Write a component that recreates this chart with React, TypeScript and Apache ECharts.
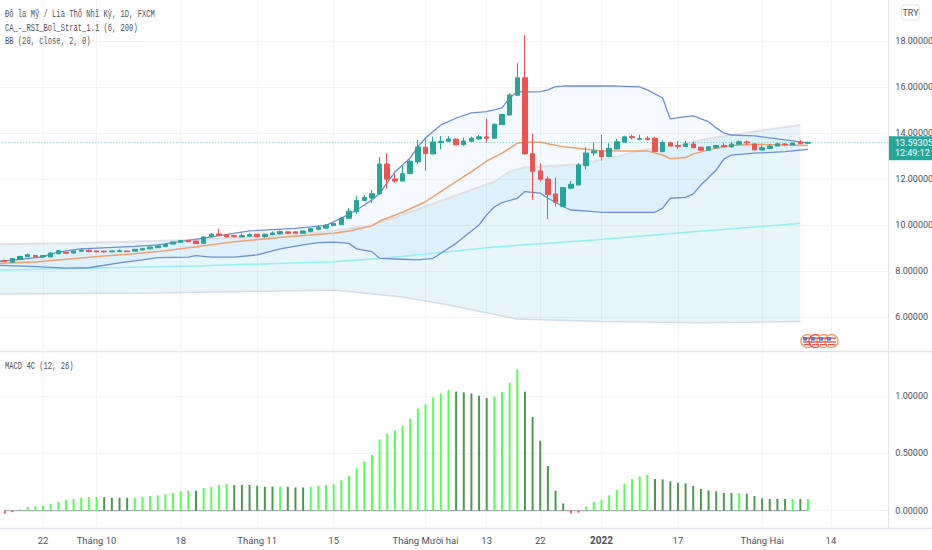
import React, { useEffect, useRef } from "react";
import * as echarts from "echarts";

// index 0 = 22 Sep 2021, one category per weekday
const firstIndex = -6;
const categoryCount = 117;
const tickLabels: Record<number, string> = {
  0: "22", 7: "Tháng 10", 18: "18", 28: "Tháng 11", 38: "15", 50: "Tháng Mười hai",
  58: "13", 65: "22", 73: "2022", 83: "17", 94: "Tháng Hai", 103: "14",
};
const categories = Array.from({ length: categoryCount }, (_, k) => String(k + firstIndex));
const priceTicks = [6, 8, 10, 12, 14, 16, 18];
const macdTicks = [0, 0.5, 1];
const lastPrice = 13.59305;
const countdown = "12:49:12";

// open, close, low, high (bars from index -5)
const candles = [
  [8.46,8.41,8.39,8.49],[8.38,8.54,8.36,8.56],[8.50,8.63,8.48,8.66],[8.62,8.70,8.60,8.76],[8.67,8.62,8.60,8.69],
  [8.61,8.67,8.57,8.70],[8.61,8.78,8.59,8.80],[8.75,8.88,8.74,8.90],[8.81,8.77,8.75,8.83],[8.78,8.87,8.76,8.89],
  [8.86,8.91,8.84,8.96],[8.90,8.84,8.82,8.94],[8.87,8.83,8.81,8.88],[8.86,8.83,8.80,8.88],[8.83,8.87,8.82,8.88],
  [8.84,8.88,8.83,8.94],[8.87,8.84,8.83,8.88],[8.86,8.94,8.85,8.96],[8.91,8.97,8.90,9.00],[8.96,9.04,8.95,9.05],
  [9.01,9.09,9.00,9.10],[9.06,9.16,9.05,9.17],[9.17,9.26,9.16,9.27],[9.25,9.32,9.24,9.33],[9.33,9.27,9.26,9.36],
  [9.30,9.19,9.17,9.32],[9.19,9.48,9.18,9.49],[9.49,9.60,9.48,9.65],[9.61,9.54,9.52,9.83],[9.58,9.49,9.44,9.59],
  [9.54,9.49,9.48,9.55],[9.48,9.54,9.47,9.63],[9.51,9.58,9.50,9.65],[9.60,9.49,9.48,9.61],[9.49,9.60,9.44,9.61],
  [9.58,9.65,9.57,9.72],[9.61,9.71,9.60,9.76],[9.70,9.64,9.63,9.71],[9.70,9.64,9.63,9.72],[9.64,9.74,9.63,9.75],
  [9.71,9.84,9.70,9.85],[9.81,9.90,9.80,10.00],[9.86,9.99,9.85,10.04],[9.97,10.06,9.96,10.07],[10.01,10.30,10.00,10.36],
  [10.29,10.60,10.28,10.74],[10.57,11.07,10.48,11.27],[11.06,11.20,11.04,11.31],[11.17,11.36,10.97,11.52],[11.35,12.65,11.33,12.96],
  [12.65,11.99,11.58,13.12],[12.00,11.91,11.84,12.22],[11.91,12.23,11.90,12.57],[12.23,12.77,12.22,12.83],[12.74,13.39,12.65,13.70],
  [13.38,13.10,12.36,13.81],[13.09,13.61,13.07,13.84],[13.58,13.64,13.29,13.87],[13.64,13.74,13.60,13.86],[13.73,13.49,13.45,13.77],
  [13.49,13.65,13.45,13.80],[13.64,13.77,13.60,13.84],[13.74,13.83,13.70,13.91],[13.83,13.77,13.58,14.62],[13.77,14.38,13.76,14.42],
  [14.36,14.80,14.35,14.83],[14.78,15.65,14.77,15.73],[15.64,16.40,15.63,17.03],[16.40,13.09,13.07,18.26],[13.10,12.33,11.09,13.97],
  [12.35,11.99,11.88,12.68],[12.00,11.33,10.25,12.10],[11.35,10.99,10.80,12.06],[10.81,11.62,10.80,11.65],[11.60,11.77,11.55,11.91],
  [11.74,12.61,11.72,12.68],[12.58,13.13,12.42,13.38],[13.13,13.22,13.01,13.60],[13.22,12.97,12.80,13.91],[12.97,13.33,12.95,13.55],
  [13.30,13.62,13.29,13.74],[13.60,13.83,13.58,13.88],[13.84,13.80,13.71,13.93],[13.71,13.75,13.70,13.93],[13.77,13.71,13.68,13.86],
  [13.77,13.19,13.17,13.83],[13.19,13.58,13.18,13.67],[13.57,13.43,13.42,13.62],[13.46,13.42,13.30,13.65],[13.41,13.53,13.39,13.65],
  [13.52,13.36,13.34,13.62],[13.38,13.25,13.23,13.40],[13.25,13.40,13.23,13.42],[13.35,13.45,13.33,13.49],[13.45,13.40,13.39,13.55],
  [13.39,13.52,13.37,13.62],[13.51,13.62,13.50,13.67],[13.61,13.57,13.48,13.68],[13.51,13.26,13.25,13.55],[13.26,13.36,13.25,13.45],
  [13.32,13.43,13.31,13.52],[13.43,13.53,13.42,13.58],[13.52,13.48,13.47,13.56],[13.48,13.56,13.47,13.57],[13.58,13.53,13.52,13.70],
  [13.55,13.59,13.54,13.62],
];

// [bar index, price]
const bbUpper = [[-6,8.41],[-3,8.50],[0,8.61],[1,8.74],[3,8.87],[5,8.96],[12,9.07],[15,9.13],[21,9.43],[27,9.74],[33,9.85],[37,9.98],[39,10.30],[41,10.65],[43,11.09],[44,11.37],[46,12.30],[47,12.61],[48,12.91],[49,13.40],[50,13.78],[51,14.06],[52,14.35],[53,14.49],[54,14.65],[56,14.87],[58,14.93],[60,15.09],[61,15.52],[62,15.80],[63,15.78],[65,15.80],[66,15.87],[67,16.01],[68,16.04],[71,16.04],[75,16.04],[78,16.00],[79,15.87],[81,15.52],[82,14.61],[84,14.71],[85,14.74],[87,14.49],[88,14.22],[89,14.00],[90,13.91],[93,13.87],[97,13.70],[100,13.57]];
const bbLower = [[-6,8.25],[-1,8.19],[3,8.12],[6,8.14],[10,8.35],[13,8.48],[15,8.58],[19,8.60],[20,8.67],[22,8.60],[25,8.60],[28,8.70],[31,8.96],[34,9.13],[36,9.23],[38,9.25],[40,9.20],[41,8.96],[43,8.84],[44,8.55],[46,8.52],[49,8.48],[51,8.55],[52,8.77],[54,9.20],[57,10.00],[58,10.44],[59,10.78],[60,10.97],[62,11.16],[63,11.45],[65,11.38],[66,11.16],[68,10.80],[69,10.65],[72,10.58],[73,10.55],[80,10.55],[81,10.73],[82,11.16],[84,11.20],[85,11.35],[86,11.74],[88,12.39],[89,12.86],[90,13.04],[93,13.12],[97,13.19],[100,13.29]];
const bbBasis = [[-6,8.33],[-1,8.39],[3,8.51],[8,8.65],[12,8.75],[16,8.88],[25,9.27],[32,9.49],[38,9.64],[40,9.74],[43,9.96],[44,10.17],[47,10.55],[50,11.01],[53,11.67],[56,12.32],[58,12.78],[60,13.12],[62,13.55],[63,13.60],[65,13.60],[68,13.40],[69,13.37],[71,13.29],[73,13.22],[79,13.22],[81,13.04],[82,12.88],[84,12.93],[85,13.09],[88,13.34],[90,13.45],[93,13.51],[97,13.48],[100,13.45]];
const outerTop = [[-6,9.16],[5,9.22],[19,9.35],[27,9.47],[37,9.70],[43,10.00],[47,10.43],[53,11.17],[59,11.88],[61,12.32],[63,12.51],[70,12.63],[73,12.83],[75,12.97],[78,13.24],[83,13.44],[86,13.70],[91,13.96],[95,14.16],[99,14.35]];
const outerBottom = [[-6,7.00],[15,7.04],[38,7.17],[47,6.87],[53,6.52],[62,5.91],[73,5.80],[86,5.75],[99,5.80]];
const ma200 = [[-6,8.04],[20,8.22],[38,8.40],[44,8.54],[53,8.84],[59,9.04],[72,9.35],[85,9.70],[99,10.07]];

// MACD histogram (bars from index -5)
const macdValues = [
  -0.023,-0.012,0.012,0.032,0.038,0.044,0.058,0.076,0.093,0.102,0.113,0.119,0.119,0.119,0.113,0.113,0.113,0.113,0.119,0.128,
  0.134,0.142,0.154,0.169,0.174,0.174,0.198,0.209,0.224,0.233,0.224,0.224,0.224,0.218,0.209,0.209,0.209,0.209,0.203,0.203,
  0.209,0.218,0.224,0.230,0.265,0.305,0.369,0.430,0.485,0.622,0.672,0.701,0.738,0.802,0.892,0.927,0.988,1.023,1.052,1.038,
  1.032,1.023,1.003,0.983,0.994,1.032,1.113,1.233,1.038,0.817,0.610,0.390,0.174,0.064,-0.023,-0.017,0.035,0.076,0.093,0.134,
  0.180,0.235,0.276,0.299,0.314,0.276,0.273,0.256,0.244,0.238,0.215,0.189,0.177,0.169,0.154,0.154,0.154,0.148,0.128,0.108,
  0.102,0.102,0.102,0.102,0.102,0.102,
];
const macdFallingBars = [8,9,10,11,20,25,26,27,28,29,30,32,33,34,54,55,56,57,58,63,64,65,66,67,68,80,81,82,83,84,85,86,87,88,89,90,92,93,94,95,96,97,99];

const legendLines = ["Đô la Mỹ / Lia Thổ Nhĩ Kỳ, 1D, FXCM", "CA_-_RSI_Bol_Strat_1.1 (6, 200)", "BB (20, close, 2, 0)"];
const macdLegend = "MACD 4C (12, 26)";

const UP = "#26a69a";
const DOWN = "#ef5350";
const GRID = "#f2f4f8";
const BORDER = "#e4e6ec";
const TEXT = "#4f525c";
const NARROW = "'Liberation Sans Narrow', Roboto, sans-serif";
const gridLeft = 43 - 6.5 * 7.65;

const toXY = (pairs: number[][]) => pairs.map(([i, v]) => [i - firstIndex, v]);

const bandSeries = (upper: number[][], lower: number[][], fill: string) => ({
  type: "custom",
  xAxisIndex: 0,
  yAxisIndex: 0,
  silent: true,
  z: 1,
  clip: true,
  encode: { x: 0, y: 1 },
  data: toXY(upper),
  renderItem: (params: any, api: any) => {
    if (params.dataIndex !== 0) return null;
    const pts = [...toXY(upper), ...toXY(lower).reverse()].map((p) => api.coord(p));
    return { type: "polygon", shape: { points: pts }, style: { fill } };
  },
});

const lineSeries = (pairs: number[][], color: string, width: number, z = 3) => ({
  type: "line",
  xAxisIndex: 0,
  yAxisIndex: 0,
  data: toXY(pairs),
  showSymbol: false,
  silent: true,
  z,
  lineStyle: { color, width },
});

const showTick = (index: number) => tickLabels[index + firstIndex] !== undefined;

const flagIcon = (cx: number, cy: number, ring: string) => ({
  type: "group",
  z: 50,
  children: [
    { type: "circle", shape: { cx, cy, r: 6.5 }, style: { fill: "#fff", stroke: ring, lineWidth: 1.4 }, z: 50 },
    { type: "rect", shape: { x: cx - 4.5, y: cy - 3.5, width: 9, height: 1.4 }, style: { fill: "#ef5350" }, z: 51 },
    { type: "rect", shape: { x: cx - 4.5, y: cy + 0.3, width: 9, height: 1.4 }, style: { fill: "#ef5350" }, z: 51 },
    { type: "rect", shape: { x: cx - 3.5, y: cy + 3, width: 7, height: 1.2 }, style: { fill: "#ef5350" }, z: 51 },
    { type: "rect", shape: { x: cx - 4.5, y: cy - 4, width: 4.2, height: 3.6 }, style: { fill: "#5b7fc4" }, z: 52 },
  ],
});

const squeezedText = (text: string, y: number) => ({
  type: "text",
  x: 5,
  y,
  scaleX: 0.68,
  z: 60,
  style: { text, fill: TEXT, font: "10.5px 'Liberation Mono', monospace", textVerticalAlign: "middle" },
});

export default function App() {
  const ref = useRef<HTMLDivElement>(null);
  useEffect(() => {
    const chart = echarts.init(ref.current!, undefined, { renderer: "svg" });
    const axisX = (gridIndex: number, labels: boolean) => ({
      type: "category",
      gridIndex,
      data: categories,
      boundaryGap: true,
      axisLine: { show: false },
      axisTick: { show: false, alignWithLabel: true, interval: showTick },
      splitLine: { show: true, alignWithLabel: true, interval: showTick, lineStyle: { color: GRID, width: 1 } },
      axisLabel: labels
        ? {
            show: true,
            interval: showTick,
            margin: 7,
            color: TEXT,
            fontFamily: NARROW,
            fontSize: 9.5,
            formatter: (v: string) => {
              const t = tickLabels[Number(v)] ?? "";
              return t === "2022" ? `{b|${t}}` : t;
            },
            rich: { b: { fontWeight: "bold", color: TEXT, fontFamily: NARROW, fontSize: 10 } },
          }
        : { show: false },
    });
    const axisY = (gridIndex: number, min: number, max: number, ticks: number[]) => ({
      type: "value",
      gridIndex,
      position: "right",
      min,
      max,
      axisLine: { show: true, lineStyle: { color: BORDER, width: 1 } },
      axisTick: { show: false, customValues: ticks },
      splitLine: { show: true, lineStyle: { color: GRID, width: 1 } },
      axisLabel: {
        show: true,
        customValues: ticks,
        margin: 7,
        color: TEXT,
        fontFamily: NARROW,
        fontSize: 9,
        formatter: (v: number) => v.toFixed(5),
      },
    });
    chart.setOption({
      animation: false,
      backgroundColor: "#ffffff",
      grid: [
        { left: gridLeft, top: 0, width: 7.65 * categoryCount, height: 351, outerBoundsMode: "none" },
        { left: gridLeft, top: 352, width: 7.65 * categoryCount, height: 176, outerBoundsMode: "none" },
      ],
      xAxis: [axisX(0, false), axisX(1, true)],
      yAxis: [axisY(0, 4.52, 19.78, priceTicks), axisY(1, -0.151, 1.3836, macdTicks)],
      series: [
        bandSeries(outerTop, outerBottom, "rgba(0,140,210,0.09)"),
        bandSeries(bbUpper, bbLower, "rgba(33,150,243,0.05)"),
        lineSeries(outerTop, "#dfe1e6", 2),
        lineSeries(outerBottom, "#d3dde6", 1.5),
        lineSeries(ma200, "#8ff2ef", 1.5),
        lineSeries(bbBasis, "#f0a26c", 1.5),
        lineSeries(bbUpper, "#6d8fdb", 1.3),
        lineSeries(bbLower, "#6d8fdb", 1.3),
        {
          type: "candlestick",
          xAxisIndex: 0,
          yAxisIndex: 0,
          z: 5,
          barWidth: 5,
          silent: true,
          data: ["-", ...candles],
          itemStyle: { color: UP, color0: DOWN, borderColor: UP, borderColor0: DOWN, borderWidth: 1 },
          markLine: {
            silent: true,
            symbol: "none",
            animation: false,
            label: { show: false },
            lineStyle: { color: UP, type: [1, 2], width: 1, opacity: 0.6 },
            data: [{ yAxis: lastPrice }],
          },
        },
        {
          type: "line",
          xAxisIndex: 1,
          yAxisIndex: 1,
          z: 3,
          showSymbol: false,
          silent: true,
          lineStyle: { color: "#9a9da6", width: 1 },
          data: ["-", ...macdValues.map(() => 0)],
        },
        {
          type: "bar",
          xAxisIndex: 1,
          yAxisIndex: 1,
          barWidth: 2,
          z: 4,
          silent: true,
          data: ["-", ...macdValues.map((v, k) => {
            const i = k + firstIndex + 1;
            const color = v < 0 ? "#ef5350" : macdFallingBars.includes(i) ? "#4c9a50" : "#55ff55";
            return { value: v, itemStyle: { color } };
          })],
        },
      ],
    });
    const priceY = chart.convertToPixel({ yAxisIndex: 0 }, lastPrice) as number;
    chart.setOption({
      graphic: {
        elements: [
          { type: "line", z: 40, shape: { x1: 0, y1: 351.5, x2: 932, y2: 351.5 }, style: { stroke: BORDER, lineWidth: 1.5 } },
          { type: "line", z: 40, shape: { x1: 0, y1: 528.5, x2: 932, y2: 528.5 }, style: { stroke: BORDER, lineWidth: 1.5 } },
          ...legendLines.map((t, k) => squeezedText(t, 15 + k * 13.2)),
          squeezedText(macdLegend, 367),
          { type: "rect", z: 60, shape: { x: 901.5, y: 5, width: 18, height: 15, r: 3 }, style: { fill: "#fff", stroke: "#e0e3eb", lineWidth: 1 } },
          { type: "text", z: 61, x: 910.5, y: 12.5, style: { text: "TRY", fill: TEXT, font: `9px ${NARROW}`, textAlign: "center", textVerticalAlign: "middle" } },
          { type: "rect", z: 60, shape: { x: 889, y: priceY - 6, width: 43, height: 24 }, style: { fill: UP } },
          { type: "text", z: 61, x: 895, y: priceY + 0.5, style: { text: lastPrice.toFixed(5), fill: "#fff", font: `9px ${NARROW}`, textVerticalAlign: "middle" } },
          { type: "text", z: 61, x: 895, y: priceY + 11, style: { text: countdown, fill: "#fff", font: `9px ${NARROW}`, textVerticalAlign: "middle" } },
          flagIcon(807.5, 341, "#f2a262"),
          flagIcon(815.5, 341, "#ef5350"),
          flagIcon(823.5, 341, "#f2a262"),
          flagIcon(831.5, 341, "#f2a262"),
        ],
      },
    });
    return () => chart.dispose();
  }, []);
  return <div ref={ref} style={{ position: "fixed", left: 0, top: 0, width: 932, height: 550, background: "#fff" }} />;
}
